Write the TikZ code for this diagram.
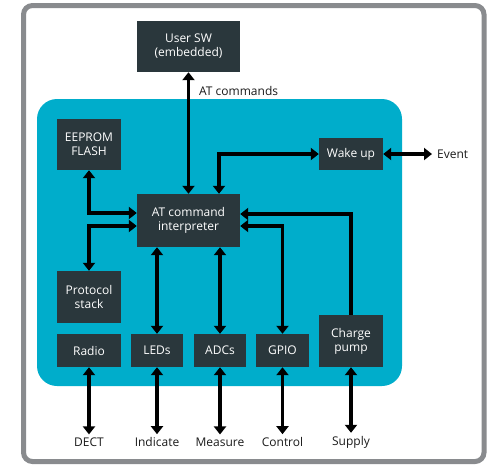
\documentclass[tikz,border=0pt]{standalone}
\usepackage{fontspec}
\setmainfont{Open Sans}
\usetikzlibrary{arrows.meta,calc}
\definecolor{frame}{HTML}{898B8E}
\definecolor{bluebg}{HTML}{00ADCB}
\definecolor{boxc}{HTML}{2A373C}
\definecolor{txt}{HTML}{1A1A1A}
\tikzset{
  blk/.style={fill=boxc,text=white,align=center,inner sep=0pt,font=\fontsize{12}{14}\selectfont},
  lbl/.style={text=txt,inner sep=0pt,font=\fontsize{12}{14}\selectfont},
  conn/.style={line width=3.6pt,draw=black,{Triangle[length=8pt,width=12pt]}-{Triangle[length=8pt,width=12pt]}},
  oneway/.style={line width=3.6pt,draw=black,-{Triangle[length=8pt,width=12pt]}}
}
\begin{document}
\begin{tikzpicture}[x=1pt,y=-1pt]
\useasboundingbox (0,0) rectangle (489,464);
\draw[frame,line width=5pt,rounded corners=9pt] (23.5,5.5) rectangle (484,461.5);
\fill[bluebg,rounded corners=20pt] (37,99) rectangle (402,386);
\node[blk,minimum width=103pt,minimum height=51pt] (user) at (188.5,46.5) {User SW\\(embedded)};
\node[blk,minimum width=64pt,minimum height=51pt] (eeprom) at (89,144.5) {EEPROM\\FLASH};
\node[blk,minimum width=64pt,minimum height=32pt] (wake) at (351,154) {Wake up};
\node[blk,minimum width=103pt,minimum height=53pt] (at) at (188.5,220.5) {AT command\\interpreter};
\node[blk,minimum width=64pt,minimum height=52pt] (proto) at (89,297) {Protocol\\stack};
\node[blk,minimum width=64pt,minimum height=33pt] (radio) at (89,350.5) {Radio};
\node[blk,minimum width=52pt,minimum height=33pt] (leds) at (157,350.5) {LEDs};
\node[blk,minimum width=52pt,minimum height=33pt] (adcs) at (220,350.5) {ADCs};
\node[blk,minimum width=53pt,minimum height=33pt] (gpio) at (282.5,350.5) {GPIO};
\node[blk,minimum width=64pt,minimum height=52pt] (charge) at (351,341) {Charge\\pump};
\node[lbl,anchor=west] (atc) at (199,91) {AT commands};
\node[lbl,anchor=west] (event) at (437,154) {Event};
\node[lbl] (dect) at (89,442) {DECT};
\node[lbl] (ind) at (157,442) {Indicate};
\node[lbl] (meas) at (220,442) {Measure};
\node[lbl] (ctrl) at (282.5,442) {Control};
\node[lbl] (sup) at (351,442) {Supply};
\coordinate (evend) at (432,154);
% connectors
\draw[conn] (at.north) -- (user.south);
\draw[conn] ([xshift=30.5pt]at.north) |- (wake.west);
\draw[conn] (wake.east) -- (evend);
\draw[conn] (eeprom.south) |- ([yshift=7.5pt]at.west);
\draw[conn] ([yshift=-5.5pt]at.west) -| (proto.north);
\draw[conn] (leds.north) -- (leds.north |- at.south);
\draw[conn] (adcs.north) -- (adcs.north |- at.south);
\draw[conn] (gpio.north) |- ([yshift=-5.5pt]at.east);
\draw[oneway] (charge.north) |- ([yshift=6.5pt]at.east);
\draw[conn] (radio.south) -- ([yshift=3pt]radio.south |- dect.north);
\draw[conn] (leds.south) -- ([yshift=3pt]leds.south |- ind.north);
\draw[conn] (adcs.south) -- ([yshift=3pt]adcs.south |- meas.north);
\draw[conn] (gpio.south) -- ([yshift=3pt]gpio.south |- ctrl.north);
\draw[conn] (charge.south) -- ([yshift=3pt]charge.south |- sup.north);
\end{tikzpicture}
\end{document}
